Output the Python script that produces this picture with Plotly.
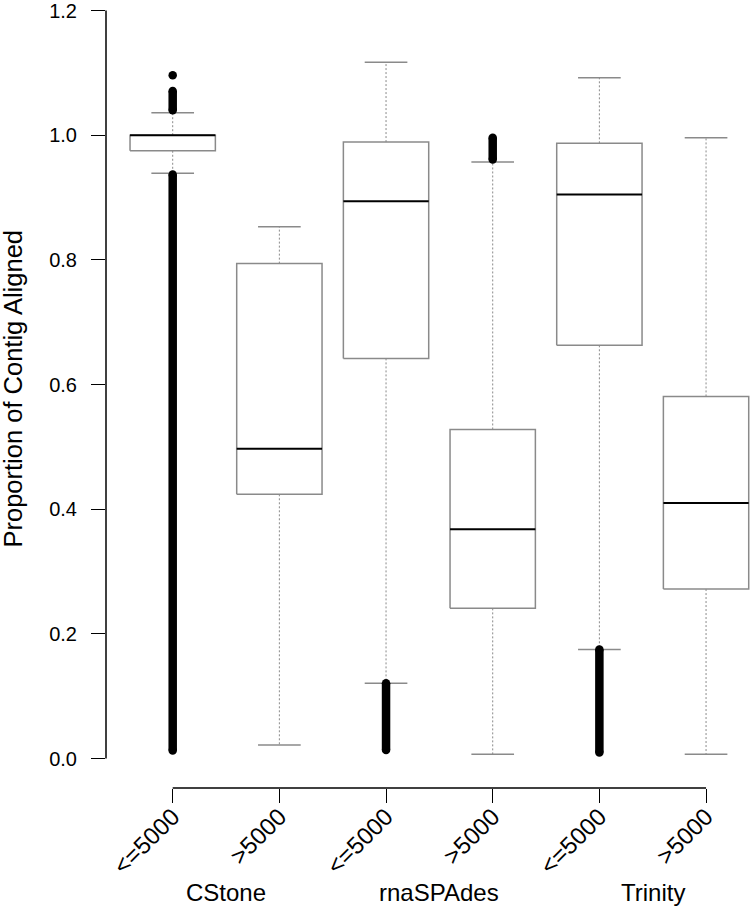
import plotly.graph_objects as go

# ---- data ----
groups = ["CStone", "rnaSPAdes", "Trinity"]
tick_labels = ["&lt;=5000", "&gt;5000", "&lt;=5000", "&gt;5000", "&lt;=5000", "&gt;5000"]
positions = [1, 2, 3, 4, 5, 6]

q1 = [0.975, 0.424, 0.642, 0.241, 0.663, 0.272]
median = [1.000, 0.497, 0.894, 0.368, 0.905, 0.410]
q3 = [1.000, 0.794, 0.989, 0.528, 0.987, 0.581]
whisker_low = [0.939, 0.022, 0.121, 0.007, 0.175, 0.007]
whisker_high = [1.036, 0.853, 1.117, 0.957, 1.092, 0.996]

# dense runs of outliers (box index, lowest, highest) and isolated outliers
outlier_band_box = [0, 0, 2, 3, 4]
outlier_band_low = [0.013, 1.040, 0.014, 0.961, 0.010]
outlier_band_high = [0.937, 1.071, 0.121, 0.996, 0.175]
outlier_point_box = [0]
outlier_point_val = [1.096]

y_ticks = [0.0, 0.2, 0.4, 0.6, 0.8, 1.0, 1.2]

# ---- styles ----
FONT = "Liberation Sans, Arial, Helvetica, sans-serif"
BOX_COL = "#8a8a8a"
HALF = 0.4      # half box width
STAPLE = 0.2    # half staple width
DOT = 8.5

fig = go.Figure()

for i, p in enumerate(positions):
    fig.add_trace(go.Scatter(
        x=[p - HALF, p + HALF, p + HALF, p - HALF, p - HALF],
        y=[q1[i], q1[i], q3[i], q3[i], q1[i]],
        mode="lines", line=dict(color=BOX_COL, width=1.5),
        fill="toself", fillcolor="white", hoverinfo="skip", showlegend=False))
    fig.add_trace(go.Scatter(
        x=[p, p, None, p, p], y=[q3[i], whisker_high[i], None, q1[i], whisker_low[i]],
        mode="lines", line=dict(color=BOX_COL, width=1, dash="2px,2px"),
        hoverinfo="skip", showlegend=False))
    fig.add_trace(go.Scatter(
        x=[p - STAPLE, p + STAPLE, None, p - STAPLE, p + STAPLE],
        y=[whisker_high[i], whisker_high[i], None, whisker_low[i], whisker_low[i]],
        mode="lines", line=dict(color=BOX_COL, width=1.5),
        hoverinfo="skip", showlegend=False))
    fig.add_trace(go.Scatter(
        x=[p - HALF, p + HALF], y=[median[i], median[i]],
        mode="lines", line=dict(color="black", width=2),
        hoverinfo="skip", showlegend=False))

for b, lo, hi in zip(outlier_band_box, outlier_band_low, outlier_band_high):
    p = positions[b]
    fig.add_trace(go.Scatter(
        x=[p, p], y=[lo, hi], mode="lines+markers",
        line=dict(color="black", width=DOT),
        marker=dict(color="black", size=DOT),
        hoverinfo="skip", showlegend=False))
fig.add_trace(go.Scatter(
    x=[positions[b] for b in outlier_point_box], y=outlier_point_val,
    mode="markers", marker=dict(color="black", size=DOT),
    hoverinfo="skip", showlegend=False))

# ---- layout / axes ----
L, T, B = 106, 0, 119
W, H = 750, 907
plot_h = H - T - B
px_per_unit_x = 106.67
x_lo = 1 - (172.7 - L) / px_per_unit_x
x_hi = x_lo + (W - L) / px_per_unit_x
y0_px, px_per_unit_y = 758.5, 625.8
y_hi = (y0_px - T) / px_per_unit_y
y_lo = y_hi - plot_h / px_per_unit_y

fig.update_layout(
    width=W, height=H,
    margin=dict(l=L, r=0, t=T, b=B, pad=0),
    paper_bgcolor="white", plot_bgcolor="white",
    font=dict(family=FONT, color="black"),
    xaxis=dict(range=[x_lo, x_hi], tickvals=positions, ticktext=tick_labels,
               tickangle=-45, ticks="outside", ticklen=14, tickwidth=1.3,
               tickcolor="black", showline=False, showgrid=False, zeroline=False,
               tickfont=dict(size=24, family=FONT), ticklabelstandoff=-10,
               ticklabeloverflow="allow", fixedrange=True),
    yaxis=dict(range=[y_lo, y_hi], tickvals=y_ticks, tickformat=".1f",
               ticks="outside", ticklen=14, tickwidth=1.3, tickcolor="black",
               showline=False, showgrid=False, zeroline=False,
               tickfont=dict(size=20, family=FONT), ticklabelstandoff=10,
               ticklabeloverflow="allow", fixedrange=True),
)

fig.add_shape(type="line", xref="paper", yref="y", x0=0, x1=0, y0=y_ticks[0], y1=y_ticks[-1],
              line=dict(color="black", width=1.5))
fig.add_shape(type="line", xref="x", yref="paper", x0=positions[0], x1=positions[-1], y0=0, y1=0,
              line=dict(color="black", width=1.5))

for k, g in enumerate(groups):
    fig.add_annotation(text=g, x=(positions[2 * k] + positions[2 * k + 1]) / 2, xref="x",
                       y=-(893 - (H - B)) / plot_h, yref="paper", yanchor="middle",
                       showarrow=False, font=dict(size=24, family=FONT))

fig.add_annotation(text="Proportion of Contig Aligned", textangle=-90,
                   x=(13 - L) / (W - L), xref="paper", xanchor="center",
                   y=(plot_h - 387) / plot_h, yref="paper", yanchor="middle",
                   showarrow=False, font=dict(size=25.5, family=FONT))

fig.write_html("out.html", config={"displayModeBar": False},
               post_script="document.body.style.margin='0';")
